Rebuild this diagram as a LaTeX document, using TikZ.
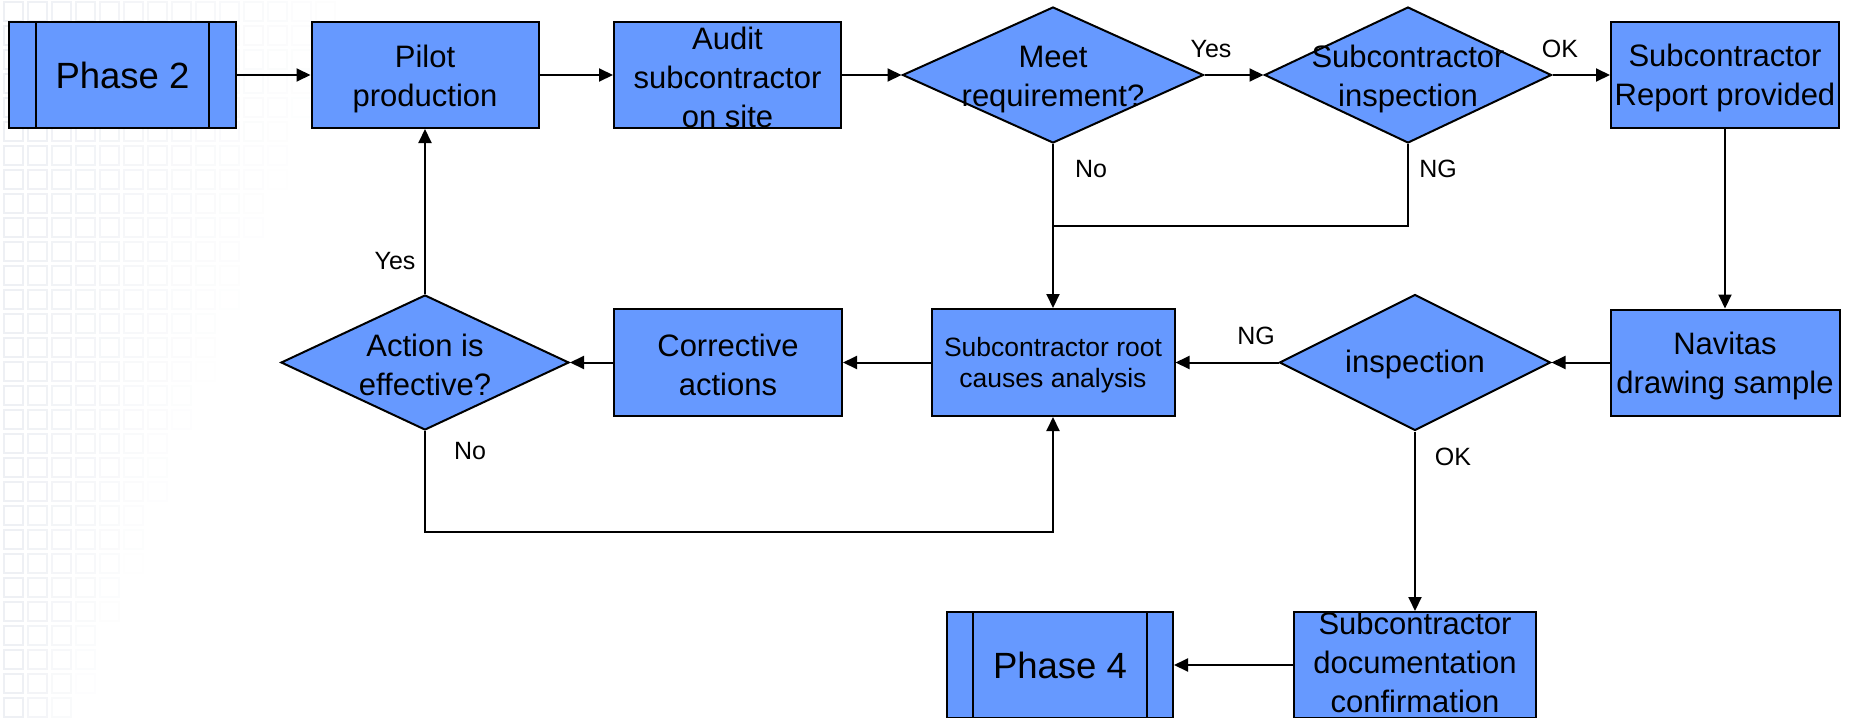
\documentclass[tikz,border=0pt]{standalone}
\usepackage{fontspec}
\setmainfont{Liberation Sans}
\usetikzlibrary{shapes.geometric,arrows.meta}
\definecolor{nblue}{RGB}{102,153,255}
\definecolor{gridc}{RGB}{214,219,229}
\tikzset{
  box/.style={draw, line width=1pt, fill=nblue, inner sep=0pt, align=center,
    font=\fontsize{15.5}{19.5}\selectfont},
  phasebox/.style={box, font=\fontsize{18.25}{22}\selectfont},
  dia/.style={diamond, draw, line width=1pt, fill=nblue, inner sep=0pt},
  txt/.style={align=center, inner sep=0pt, font=\fontsize{15.5}{19.5}\selectfont},
  lbl/.style={inner sep=0pt, font=\fontsize{12.5}{15}\selectfont},
  conn/.style={line width=1pt, -{Triangle[length=7pt,width=6.5pt]}},
  plain/.style={line width=1pt},
  gridsq/.style={draw=gridc, line width=0.7pt}
}
\begin{document}
\begin{tikzpicture}[x=0.5pt,y=-0.5pt]
\useasboundingbox (0,0) rectangle (1849,718);
\fill[white] (0,0) rectangle (1849,718);
% faint background grid
\foreach \i in {0,...,14}{
  \foreach \j in {0,...,29}{
    \pgfmathsetmacro\op{max(0,1-\i/(14.5-0.4*\j))*0.4}
    \ifdim\op pt>0.02pt
      \draw[gridsq,draw opacity=\op] (4+24*\i,2+24*\j) rectangle ++(19,19);
    \fi
  }
}
% top row
\node[phasebox, minimum width=113.5pt, minimum height=53pt] (p2) at (122.5,75) {Phase 2};
\draw[plain] ([xshift=14pt]p2.north west) -- ([xshift=14pt]p2.south west);
\draw[plain] ([xshift=-14pt]p2.north east) -- ([xshift=-14pt]p2.south east);
\node[box, minimum width=113.5pt, minimum height=53pt] (pilot) at (425,75) {};
\node[txt] (pilott) at (425,79) {Pilot\\production};
\node[box, minimum width=113.5pt, minimum height=53pt] (audit) at (727.5,75) {};
\node[txt] (auditt) at (727.5,77) {Audit\\subcontractor\\on site};
\node[dia, minimum width=150.5pt, minimum height=68pt] (meet) at (1053,75) {};
\node[txt] (meett) at (1053,80) {Meet\\requirement?};
\node[dia, minimum width=143.5pt, minimum height=68pt] (subi) at (1408,75) {};
\node[txt] (subit) at (1408,79) {Subcontractor\\inspection};
\node[box, minimum width=114pt, minimum height=53pt] (report) at (1725,75) {};
\node[txt] (reportt) at (1725,78) {Subcontractor\\Report provided};
% middle row
\node[dia, minimum width=144pt, minimum height=67.5pt] (action) at (425,362.5) {};
\node[txt] (actiont) at (425,365) {Action is\\effective?};
\node[box, minimum width=114pt, minimum height=53.5pt] (corr) at (728,362.5) {};
\node[txt] (corrt) at (728,365) {Corrective\\actions};
\node[box, minimum width=121.5pt, minimum height=53.5pt] (root) at (1053,362.5) {};
\node[txt, font=\fontsize{13.25}{15.5}\selectfont] (roott) at (1053,365) {Subcontractor root\\causes analysis};
\node[dia, minimum width=135.5pt, minimum height=68pt] (insp) at (1415,362.5) {};
\node[txt] (inspt) at (1415,364) {inspection};
\node[box, minimum width=114.5pt, minimum height=53pt] (navitas) at (1725,362.5) {};
\node[txt] (navitast) at (1725,366) {Navitas\\drawing sample};
% bottom row
\node[phasebox, minimum width=113pt, minimum height=53pt] (p4) at (1060,665) {Phase 4};
\draw[plain] ([xshift=13.5pt]p4.north west) -- ([xshift=13.5pt]p4.south west);
\draw[plain] ([xshift=-13.5pt]p4.north east) -- ([xshift=-13.5pt]p4.south east);
\node[box, minimum width=121pt, minimum height=53pt] (doc) at (1415,665) {};
\node[txt] (doct) at (1415,662) {Subcontractor\\documentation\\confirmation};
% junction coordinates
\coordinate (join) at (1053,226);
\coordinate (lowturn) at (1053,532);
% connectors
\draw[conn] (p2.east) -- (pilot.west);
\draw[conn] (pilot.east) -- (audit.west);
\draw[conn] (audit.east) -- (meet.west);
\draw[conn] (meet.east) -- (subi.west);
\draw[conn] (subi.east) -- (report.west);
\draw[conn] (meet.south) -- (root.north);
\draw[plain] (subi.south) |- (join);
\draw[conn] (report.south) -- (navitas.north);
\draw[conn] (navitas.west) -- (insp.east);
\draw[conn] (insp.west) -- (root.east);
\draw[conn] (insp.south) -- (doc.north);
\draw[conn] (doc.west) -- (p4.east);
\draw[conn] (root.west) -- (corr.east);
\draw[conn] (corr.west) -- (action.east);
\draw[conn] (action.north) -- (pilot.south);
\draw[conn] (action.south) |- (lowturn) -- (root.south);
% labels
\node[lbl] (lyes1) at (1211,49) {Yes};
\node[lbl] (lok1) at (1560,49) {OK};
\node[lbl] (lno1) at (1091,169) {No};
\node[lbl] (lng1) at (1438,169) {NG};
\node[lbl] (lyes2) at (395,261) {Yes};
\node[lbl] (lno2) at (470,451) {No};
\node[lbl] (lng2) at (1256,336) {NG};
\node[lbl] (lok2) at (1453,457) {OK};
\end{tikzpicture}
\end{document}
